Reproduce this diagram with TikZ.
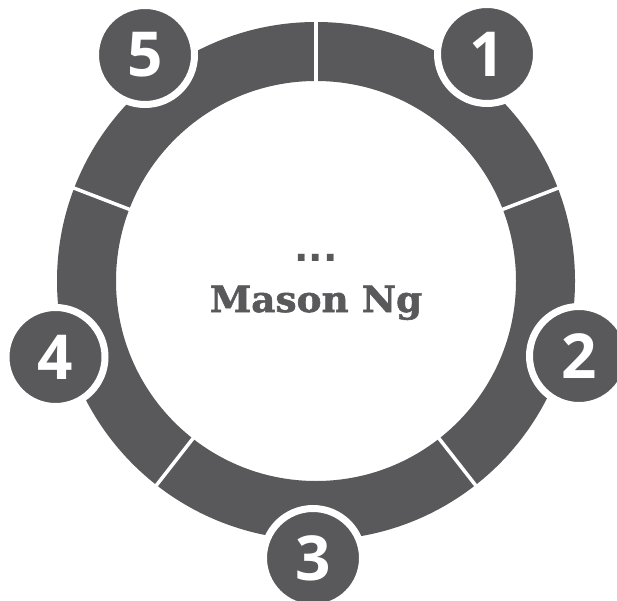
\documentclass[tikz,border=0pt]{standalone}
\usepackage{fontspec}
\setsansfont{Open Sans}
\newfontfamily\slabfont[FakeStretch=1.04,FakeBold=1.6]{DejaVu Serif Bold}
\newfontfamily\dotfont{DejaVu Sans Bold}
\usetikzlibrary{calc}
\definecolor{slate}{HTML}{59595B}

\begin{document}
\begin{tikzpicture}[
 x=1pt,y=1pt,
 badge/.style={circle,fill=slate,draw=white,line width=7pt,minimum size=99pt,inner sep=0pt,text=white,font=\sffamily\bfseries\fontsize{62}{62}\selectfont},
 title/.style={text=slate,font=\slabfont\fontsize{36}{36}\selectfont,anchor=base},
 cut/.style={draw=white,line width=3.5pt}
]
\useasboundingbox (0,0) rectangle (617,600);
\clip (0,0) rectangle (617,600);
\coordinate (c) at (316,319);
\fill[slate,even odd rule] (c) circle (259) (c) circle (200);
\foreach \a in {90,21,-52,-128,159}
  \draw[cut] ($(c)+(\a:195)$) -- ($(c)+(\a:265)$);
\node[badge] (b1) at (487,546) {1};
\node[badge] (b2) at (579,244) {2};
\node[badge] (b3) at (313,42) {3};
\node[badge] (b4) at (55.5,243) {4};
\node[badge] (b5) at (145,545) {5};
\node[title,font=\dotfont\fontsize{38}{38}\selectfont] (dots) at (316,338) {...};
\node[title] (name) at (316,288) {Mason Ng};
\end{tikzpicture}
\end{document}
